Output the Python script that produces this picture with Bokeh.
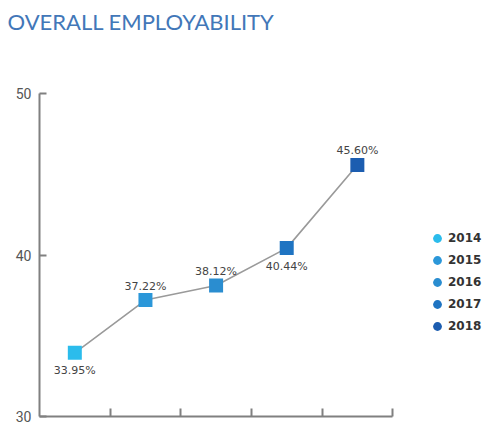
from bokeh.plotting import figure
from bokeh.models import ColumnDataSource, Range1d, FixedTicker, Legend, LegendItem
from bokeh.core.properties import value
from bokeh.embed import file_html
from bokeh.resources import INLINE

years = ["2014", "2015", "2016", "2017", "2018"]
employability = [33.95, 37.22, 38.12, 40.44, 45.60]
labels = ["33.95%", "37.22%", "38.12%", "40.44%", "45.60%"]
label_side = ["below", "above", "above", "below", "above"]
colors = ["#2bbcec", "#2b97d9", "#2a8dd0", "#1f74c2", "#1c5db0"]
y_ticks = [30, 40, 50]

xpos = [i + 0.5 for i in range(len(years))]
offsets = [18 if s == "below" else -14 for s in label_side]

src = ColumnDataSource(dict(x=xpos, y=employability, year=years, color=colors,
                            label=labels, off=offsets))

p = figure(width=484, height=425, output_backend="svg", toolbar_location=None,
           x_range=Range1d(0, 6.30), y_range=Range1d(30, 53.375),
           min_border_left=39, min_border_right=0, min_border_top=0, min_border_bottom=9)

p.title.text = "OVERALL EMPLOYABILITY"
p.title.text_font = "Lato"
p.title.text_font_size = "22px"
p.title.text_font_style = "normal"
p.title.text_color = "#4277b8"
p.title.align = "left"
p.title.offset = -32

p.outline_line_color = None
p.grid.visible = False
p.background_fill_color = "white"
p.border_fill_color = "white"

# axes
p.yaxis.bounds = (30, 50)
p.yaxis.ticker = FixedTicker(ticks=y_ticks)
p.yaxis.minor_tick_line_color = None
p.yaxis.major_tick_in = 7
p.yaxis.major_tick_out = 0
p.yaxis.axis_line_color = "#808080"
p.yaxis.axis_line_width = 2
p.yaxis.major_tick_line_color = "#808080"
p.yaxis.major_tick_line_width = 2
p.yaxis.major_label_text_font = "Roboto"
p.yaxis.major_label_text_font_size = "14px"
p.yaxis.major_label_text_color = "#555555"
p.yaxis.major_label_standoff = 8

x_ticks = [1, 2, 3, 4, 5]
p.xaxis.bounds = (0, 5)
p.xaxis.ticker = FixedTicker(ticks=x_ticks)
p.xaxis.major_label_overrides = {t: "" for t in x_ticks}
p.xaxis.minor_tick_line_color = None
p.xaxis.major_tick_in = 8
p.xaxis.major_tick_out = 0
p.xaxis.axis_line_color = "#808080"
p.xaxis.axis_line_width = 2
p.xaxis.major_tick_line_color = "#808080"
p.xaxis.major_tick_line_width = 2

# line
p.line("x", "y", source=src, line_color="#9a9a9a", line_width=1.6)

# legend circles (hidden beneath squares)
circ = p.scatter("x", "y", source=src, marker="circle", size=11, fill_color="color",
                 line_color=None)
p.scatter("x", "y", source=src, marker="square", size=14, fill_color="color",
          line_color=None)

p.text("x", "y", text="label", source=src, y_offset="off", text_align="center",
       text_baseline="middle", text_font=value("DejaVu Sans"), text_font_size="11px",
       text_color="#444444")

items = [LegendItem(label=yr, renderers=[circ], index=i) for i, yr in enumerate(years)]
legend = Legend(items=items, location=(387, 79), padding=0, margin=0,
                glyph_width=22, glyph_height=22, label_height=22, spacing=0,
                label_standoff=0, label_text_font="DejaVu Sans",
                label_text_font_style="bold", label_text_font_size="12px",
                label_text_color="#333333", border_line_color=None,
                background_fill_alpha=0)
p.add_layout(legend, "center")

open("out.html", "w").write(file_html(p, INLINE))
